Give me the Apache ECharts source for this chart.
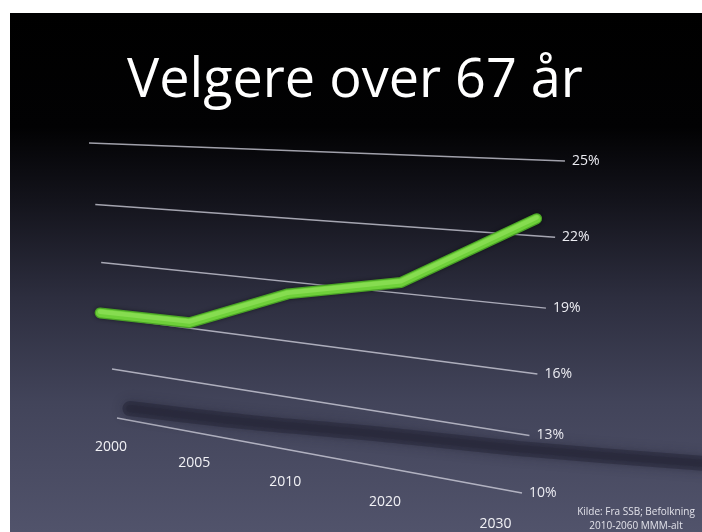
<!DOCTYPE html>
<html>
<head>
<meta charset="utf-8">
<script src="https://cdn.jsdelivr.net/npm/echarts@6/dist/echarts.min.js"></script>
<style>
html,body{margin:0;padding:0;background:#fff;}
#chart{width:702px;height:532px;}
</style>
</head>
<body>
<div id="chart"></div>
<script>
// ---- data ----
var categories = ['2000', '2005', '2010', '2020', '2030'];
var values = [16.2, 16.3, 18.4, 19.5, 22.7];
var yTicks = [10, 13, 16, 19, 22, 25];
var tickLabels = ['10%', '13%', '16%', '19%', '22%', '25%'];
var titleText = 'Velgere over 67 år';
var sourceText = 'Kilde: Fra SSB; Befolkning\n2010-2060 MMM-alt';

// ---- perspective (wall plane -> screen) ----
var PA = 311.6, PB = -39.84, PC = 117, PD = -13.2, PE = -294.0, PF = 418, PG = -0.1789, PH = -0.1330;
function proj(u, v) {
  var w = PG * u + PH * v + 1;
  return [(PA * u + PB * v + PC) / w, (PD * u + PE * v + PF) / w];
}
// category position along the wall (fraction of gridline length)
var U0 = -0.018, U1 = 0.982;
function wallUV(params, api, i, val) {
  var cs = params.coordSys;
  var p = api.coord([i, val]);
  var up = (p[0] - cs.x) / cs.width;
  var v = (cs.y + cs.height - p[1]) / cs.height;
  return [U0 + U1 * up, v];
}

var chart = echarts.init(document.getElementById('chart'), null, {renderer: 'canvas'});
var option = {
  backgroundColor: '#ffffff',
  animation: false,
  title: {
    text: titleText,
    left: 122,
    top: 50,
    textStyle: {color: '#ffffff', fontSize: 54, fontWeight: 'normal', fontFamily: 'Open Sans'}
  },
  graphic: [
    {
      type: 'rect', z: -10, silent: true,
      shape: {x: 10, y: 13, width: 692, height: 519},
      style: {
        fill: new echarts.graphic.LinearGradient(0, 0, 0, 1, [
          {offset: 0, color: '#000000'},
          {offset: 0.22, color: '#020203'},
          {offset: 0.36, color: '#13131b'},
          {offset: 0.55, color: '#2d2e3f'},
          {offset: 0.75, color: '#42445a'},
          {offset: 1, color: '#51536b'}
        ])
      }
    },
    {
      type: 'text', z: 10, silent: true,
      x: 636, y: 505,
      style: {
        text: sourceText, fill: '#e2e2ea', fontSize: 10, lineHeight: 14,
        fontFamily: 'Liberation Sans Narrow, Open Sans', align: 'center', verticalAlign: 'top'
      }
    }
  ],
  grid: {left: 100, right: 100, top: 150, bottom: 90},
  xAxis: {type: 'category', data: categories, boundaryGap: false, show: false},
  yAxis: {type: 'value', min: 10, max: 25, interval: 3, show: false},
  series: [
    {
      // gridlines + value labels
      type: 'custom', name: 'grid', z: 1, silent: true, clip: false,
      data: yTicks.map(function (t, k) { return [0, t, k]; }),
      renderItem: function (params, api) {
        var uv = wallUV(params, api, 0, api.value(1));
        var a = proj(0, uv[1]), b = proj(1, uv[1]);
        return {
          type: 'group',
          children: [
            {type: 'line', shape: {x1: a[0], y1: a[1], x2: b[0], y2: b[1]},
              style: {stroke: 'rgba(212,212,224,0.75)', lineWidth: 1.4, fill: 'none'}},
            {type: 'text', x: b[0] + 7, y: b[1],
              style: {text: tickLabels[api.value(2)], fill: '#ececf2', fontSize: 14,
                fontFamily: 'Open Sans', align: 'left', verticalAlign: 'middle'}}
          ]
        };
      }
    },
    {
      // category labels on the floor
      type: 'custom', name: 'categories', z: 1, silent: true, clip: false,
      data: categories.map(function (c, i) { return [i, 10]; }),
      renderItem: function (params, api) {
        var i = api.value(0);
        var uv = wallUV(params, api, i, 10);
        var p = proj(uv[0] - 0.01, uv[1] - 0.13);
        return {type: 'text', x: p[0], y: p[1],
          style: {text: categories[i], fill: '#f2f2f6', fontSize: 14, fontFamily: 'Open Sans',
            align: 'center', verticalAlign: 'middle'}};
      }
    },
    {
      // floor shadow of the line
      type: 'custom', name: 'shadow', z: 2, silent: true, clip: false,
      data: values.map(function (v, i) { return [i, v]; }),
      renderItem: function (params, api) {
        if (params.dataIndex !== 0) return null;
        var pts = [];
        var base = wallUV(params, api, 0, values[0]);
        for (var j = 0; j < values.length; j++) {
          var uv = wallUV(params, api, j, values[j]);
          var us = 0.042 + (uv[0] - base[0]) * 1.30;
          var vs = 0.05 + 0.087 * (us - 0.042) + 0.089 * (uv[1] - base[1]);
          pts.push(proj(us, vs));
        }
        return {
          type: 'group',
          children: [
            {type: 'polyline', shape: {points: pts, smooth: 0.3},
              style: {stroke: 'rgba(32,33,50,0.4)', fill: 'none', lineWidth: 15, lineCap: 'round', lineJoin: 'round',
                shadowBlur: 12, shadowColor: 'rgba(25,25,40,0.7)'}},
            {type: 'polyline', shape: {points: pts, smooth: 0.3},
              style: {stroke: 'rgba(40,41,58,0.45)', fill: 'none', lineWidth: 7, lineCap: 'round', lineJoin: 'round',
                shadowBlur: 6, shadowColor: 'rgba(30,30,45,0.6)'}}
          ]
        };
      }
    },
    {
      // the green line
      type: 'custom', name: 'Velgere over 67 år', z: 5, silent: true, clip: false,
      data: values.map(function (v, i) { return [i, v]; }),
      renderItem: function (params, api) {
        if (params.dataIndex !== 0) return null;
        var pts = [], hi = [];
        for (var j = 0; j < values.length; j++) {
          var uv = wallUV(params, api, j, values[j]);
          var p = proj(uv[0], uv[1]);
          pts.push(p);
          hi.push([p[0], p[1] - 1.2]);
        }
        return {
          type: 'group',
          children: [
            {type: 'polyline', shape: {points: pts},
              style: {stroke: '#4aa226', fill: 'none', lineWidth: 11, lineCap: 'round', lineJoin: 'round',
                shadowBlur: 4, shadowColor: 'rgba(0,0,0,0.45)'}},
            {type: 'polyline', shape: {points: pts},
              style: {stroke: '#6fd03a', fill: 'none', lineWidth: 8.5, lineCap: 'round', lineJoin: 'round'}},
            {type: 'polyline', shape: {points: hi},
              style: {stroke: '#86dc50', fill: 'none', lineWidth: 4.5, lineCap: 'round', lineJoin: 'round'}}
          ]
        };
      }
    }
  ]
};
chart.setOption(option);
</script>
</body>
</html>
